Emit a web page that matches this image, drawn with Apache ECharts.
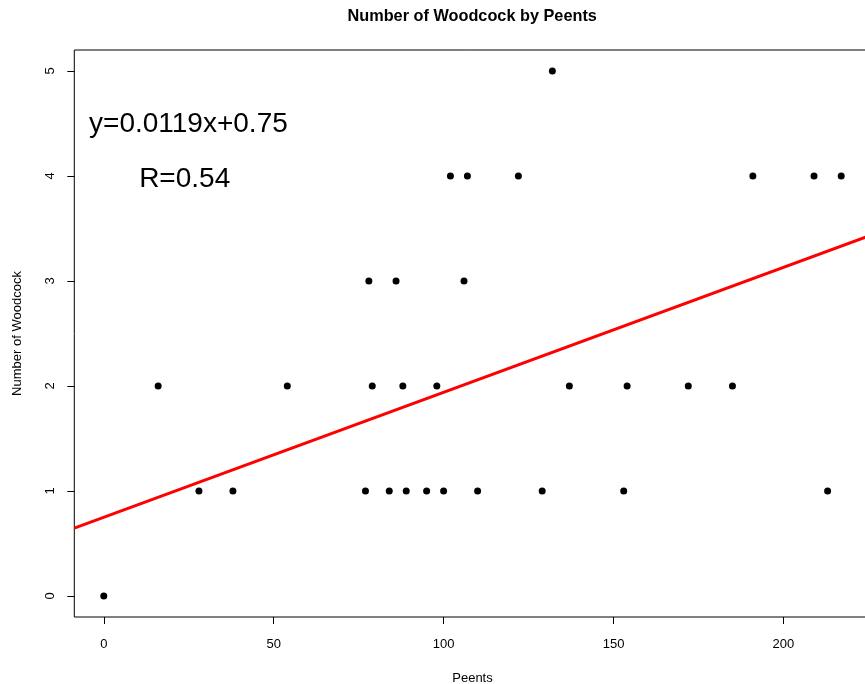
<!DOCTYPE html>
<html>
<head>
<meta charset="utf-8">
<script src="https://cdn.jsdelivr.net/npm/echarts@6/dist/echarts.min.js"></script>
<style>
html,body{margin:0;padding:0;background:#fff;}
#chart{width:865px;height:684px;}
</style>
</head>
<body>
<div id="chart"></div>
<script>
// Data
const peents   = [0, 16, 28, 38, 54, 77, 78, 79, 84, 86, 88, 89, 95, 98, 100, 102, 106, 107, 110, 122, 129, 132, 137, 153, 154, 172, 185, 191, 209, 213, 217];
const woodcock = [0,  2,  1,  1,  2,  1,  3,  2,  1,  3,  2,  1,  1,  2,   1,   4,   3,   4,   1,   4,   1,   5,   2,   1,   2,   2,   2,   4,   4,   1,   4];
const xTicks = [0, 50, 100, 150, 200];
const yTicks = [0, 1, 2, 3, 4, 5];
const slope = 0.0119;
const intercept = 0.75;
const annotationTexts = ['y=0.0119x+0.75', 'R=0.54'];
const annotationX = [24.9, 23.8];
const annotationY = [4.49, 3.97];
const titleText = 'Number of Woodcock by Peents';
const xLabel = 'Peents';
const yLabel = 'Number of Woodcock';

// R-style 4% axis extension
function ext(arr) {
  const mn = Math.min.apply(null, arr), mx = Math.max.apply(null, arr);
  const d = (mx - mn) * 0.04;
  return [mn - d, mx + d];
}
const xr = ext(peents);
const yr = ext(woodcock);

const FONT = '"Liberation Sans", Arial, Helvetica, sans-serif';
const points = peents.map((p, i) => [p, woodcock[i]]);
const fitLine = [[xr[0], slope * xr[0] + intercept], [xr[1], slope * xr[1] + intercept]];
const annot = annotationTexts.map((t, i) => ({ value: [annotationX[i], annotationY[i]], name: t }));

const chart = echarts.init(document.getElementById('chart'), null, { renderer: 'canvas' });
chart.setOption({
  animation: false,
  backgroundColor: '#ffffff',
  graphic: [{
    type: 'text',
    left: 472.5 - 125, top: 9,
    style: { text: titleText, font: 'bold 16.3px ' + FONT, fill: '#000' }
  }],
  grid: {
    left: 74.3, top: 50, bottom: 67, right: -5.7,
    outerBoundsMode: 'none', containLabel: false,
    show: true, borderColor: '#000', borderWidth: 1, backgroundColor: 'transparent'
  },
  xAxis: {
    type: 'value', min: xr[0], max: xr[1],
    name: xLabel, nameLocation: 'middle', nameGap: 55,
    nameTextStyle: { fontFamily: FONT, fontSize: 13, color: '#000' },
    axisLine: { show: false, onZero: false },
    splitLine: { show: false },
    axisTick: { show: true, length: 7, lineStyle: { color: '#000' }, customValues: xTicks },
    axisLabel: { fontFamily: FONT, fontSize: 13, color: '#000', margin: 21, customValues: xTicks }
  },
  yAxis: {
    type: 'value', min: yr[0], max: yr[1],
    name: yLabel, nameLocation: 'middle', nameGap: 50,
    nameTextStyle: { fontFamily: FONT, fontSize: 13, color: '#000' },
    axisLine: { show: false, onZero: false },
    splitLine: { show: false },
    axisTick: { show: true, length: 7, lineStyle: { color: '#000' }, customValues: yTicks },
    axisLabel: { fontFamily: FONT, fontSize: 13, color: '#000', margin: 17, rotate: 90, customValues: yTicks }
  },
  series: [
    {
      type: 'scatter', data: points, symbol: 'circle', symbolSize: 7,
      itemStyle: { color: '#000', opacity: 1 }, z: 3
    },
    {
      type: 'line', data: fitLine, symbol: 'none',
      lineStyle: { color: '#ff0000', width: 3, opacity: 1 }, z: 4, clip: true
    },
    {
      type: 'scatter', data: annot, symbolSize: 0,
      itemStyle: { opacity: 1 },
      label: {
        show: true, position: 'inside',
        formatter: p => p.name,
        fontFamily: FONT, fontSize: 28, color: '#000'
      },
      z: 5
    }
  ]
});
</script>
</body>
</html>
